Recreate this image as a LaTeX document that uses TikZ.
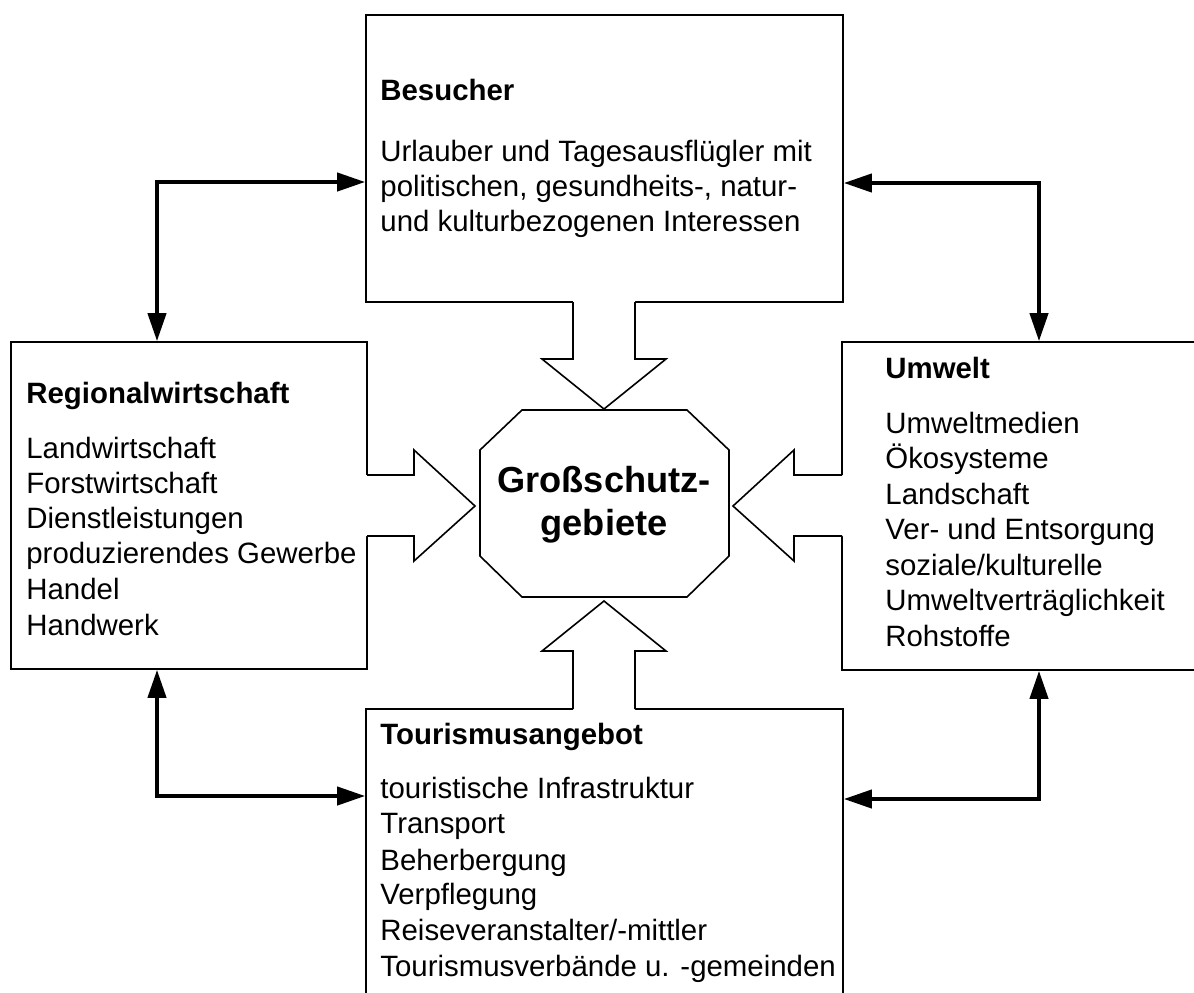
\documentclass[tikz,border=0pt]{standalone}
\usepackage{fontspec}
\setmainfont{Liberation Sans}
\usetikzlibrary{arrows.meta,fit}
\begin{document}
\begin{tikzpicture}[x=0.5pt,y=-0.5pt,
  box/.style={draw,line width=0.8pt,inner sep=0pt,rectangle},
  txt/.style={anchor=base west,inner sep=0pt,font=\fontsize{14.7}{17.6}\selectfont},
  head/.style={anchor=base west,inner sep=0pt,font=\fontsize{14.7}{17.6}\selectfont\bfseries},
  title/.style={anchor=base,inner sep=0pt,font=\fontsize{18.1}{21.5}\selectfont\bfseries},
  blk/.style={line width=0.8pt,line join=miter},
  conn/.style={line width=2pt,arrows={Triangle[length=14pt,width=9pt]-Triangle[length=14pt,width=9pt]}}]
\useasboundingbox (0,0) rectangle (1194,992);

% boxes
\node[box,fit={(366,15) (843,302)}] (besucher) {};
\node[box,fit={(11,342) (367,669)}] (regional) {};
\node[box,fit={(842,342) (1220,670)}] (umwelt) {};
\node[box,fit={(366,709) (843,1010)}] (tourismus) {};

% centre octagon
\draw[blk] (480,450)--(522,410)--(687,410)--(729,450)--(729,556)--(687,597)--(522,597)--(480,556)--cycle;
\node[title] (g1) at (604,492) {Großschutz-};
\node[title] (g2) at (604,535) {gebiete};

% block arrows
\fill[white] (573,296)--(573,359)--(542,359)--(604,409)--(666,359)--(635,359)--(635,296)--cycle;
\draw[blk] (573,302)--(573,359)--(542,359)--(604,409)--(666,359)--(635,359)--(635,302);
\fill[white] (361,475)--(414,475)--(414,450)--(475,506)--(414,561)--(414,536)--(361,536)--cycle;
\draw[blk] (367,475)--(414,475)--(414,450)--(475,506)--(414,561)--(414,536)--(367,536);
\fill[white] (848,475)--(794,475)--(794,450)--(733,506)--(794,561)--(794,536)--(848,536)--cycle;
\draw[blk] (842,475)--(794,475)--(794,450)--(733,506)--(794,561)--(794,536)--(842,536);
\fill[white] (573,715)--(573,651)--(542,651)--(604,601)--(666,651)--(635,651)--(635,715)--cycle;
\draw[blk] (573,709)--(573,651)--(542,651)--(604,601)--(666,651)--(635,651)--(635,709);

% thick connectors
\coordinate (c1) at (157,182);
\coordinate (c2) at (1039,183);
\coordinate (c3) at (157,796);
\coordinate (c4) at (1039,799);
\draw[conn] (regional.north -| c1) -- (c1) -- (besucher.west |- c1);
\draw[conn] (umwelt.north -| c2) -- (c2) -- (besucher.east |- c2);
\draw[conn] (regional.south -| c3) -- (c3) -- (tourismus.west |- c3);
\draw[conn] (umwelt.south -| c4) -- (c4) -- (tourismus.east |- c4);

% Besucher
\node[head] (bh) at (380,100) {Besucher};
\node[txt] (b1) at (380,161) {Urlauber und Tagesausflügler mit};
\node[txt] (b2) at (380,196) {politischen, gesundheits-, natur-};
\node[txt] (b3) at (380,231) {und kulturbezogenen Interessen};

% Regionalwirtschaft
\node[head] (rh) at (26,403) {Regionalwirtschaft};
\node[txt] (r1) at (26,458) {Landwirtschaft};
\node[txt] (r2) at (26,493) {Forstwirtschaft};
\node[txt] (r3) at (26,528) {Dienstleistungen};
\node[txt] (r4) at (26,563) {produzierendes Gewerbe};
\node[txt] (r5) at (26,599) {Handel};
\node[txt] (r6) at (26,635) {Handwerk};

% Umwelt
\node[head] (uh) at (885,378) {Umwelt};
\node[txt] (u1) at (885,433) {Umweltmedien};
\node[txt] (u2) at (885,468) {Ökosysteme};
\node[txt] (u3) at (885,504) {Landschaft};
\node[txt] (u4) at (885,539) {Ver- und Entsorgung};
\node[txt] (u5) at (885,575) {soziale/kulturelle};
\node[txt] (u6) at (885,610) {Umweltverträglichkeit};
\node[txt] (u7) at (885,646) {Rohstoffe};

% Tourismusangebot
\node[head] (th) at (380,744) {Tourismusangebot};
\node[txt] (t1) at (380,798) {touristische Infrastruktur};
\node[txt] (t2) at (380,833) {Transport};
\node[txt] (t3) at (380,870) {Beherbergung};
\node[txt] (t4) at (380,904) {Verpflegung};
\node[txt] (t5) at (380,940) {Reiseveranstalter/-mittler};
\node[txt] (t6) at (380,976) {Tourismusverbände u. -gemeinden};
\end{tikzpicture}
\end{document}
